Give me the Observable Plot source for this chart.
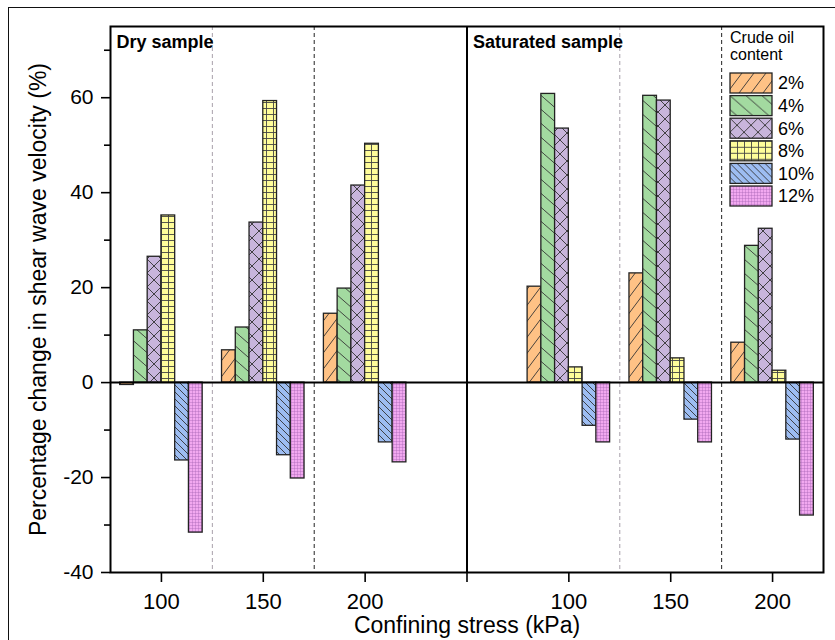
<!DOCTYPE html>
<html><head><meta charset="utf-8">
<script src="https://cdn.jsdelivr.net/npm/d3@7"></script>
<script src="https://cdn.jsdelivr.net/npm/@observablehq/plot@0.6"></script>
<style>
html,body{margin:0;padding:0;background:#fff;overflow:hidden;}
#wrap{position:relative;width:835px;height:640px;overflow:hidden;}
#border{position:absolute;left:8px;top:7px;width:860px;height:680px;border:1.5px solid #111;box-sizing:border-box;pointer-events:none;}
#legend{position:absolute;left:0;top:0;pointer-events:none;}
</style></head><body>
<svg id="defs" width="0" height="0" style="position:absolute;left:0;top:0"></svg>
<div id="wrap"><div id="border"></div></div>
<script>
// ---- data ----
const samples = ["Dry sample", "Saturated sample"];
const stresses = ["100", "150", "200"];
const contents = ["2%", "4%", "6%", "8%", "10%", "12%"];
const legendTitle = ["Crude oil", "content"];
const colors = ["#FFC285", "#A3DAA0", "#C8B5DC", "#FFFD9A", "#9DBDF2", "#F2A8F0"];
// values per crude oil content: dry 100,150,200 then saturated 100,150,200
const oil2  = [-0.5, 6.8, 14.5, 20.2, 23.0, 8.4];
const oil4  = [11.0, 11.6, 19.8, 60.8, 60.4, 28.8];
const oil6  = [26.5, 33.7, 41.5, 53.5, 59.4, 32.4];
const oil8  = [35.2, 59.3, 50.3, 3.2, 5.1, 2.5];
const oil10 = [-16.4, -15.3, -12.6, -9.1, -7.8, -12.0];
const oil12 = [-31.6, -20.2, -16.8, -12.6, -12.6, -28.0];
const yMajor = [-40, -20, 0, 20, 40, 60];
const yMinor = [-30, -10, 10, 30, 50, 70];
const yTitle = "Percentage change in shear wave velocity (%)";
const xTitle = "Confining stress (kPa)";

// ---- patterns ----
const defs = d3.select("#defs").append("defs");
function pat(id, w, h, color, path, stroke, sw, op) {
  const p = defs.append("pattern").attr("id", id).attr("patternUnits", "userSpaceOnUse")
    .attr("width", w).attr("height", h);
  p.append("rect").attr("width", w).attr("height", h).attr("fill", color);
  p.append("path").attr("d", path).attr("stroke", stroke).attr("stroke-width", sw)
    .attr("stroke-opacity", op).attr("fill", "none");
}
pat("pat0", 12, 16, colors[0], "M-12,16L0,0M0,16L12,0M12,16L24,0", "#333", 0.9, 1);
pat("pat1", 16, 14, colors[1], "M0,0L16,14M-16,0L0,14M16,0L32,14", "#333", 0.9, 1);
pat("pat2", 14, 14, colors[2], "M0,0L14,14M14,0L0,14", "#333", 0.9, 1);
pat("pat3", 7, 6, colors[3], "M0.5,0V6M0,0.5H7", "#444", 0.9, 1);
pat("pat4", 7, 7, colors[4], "M0,0L7,7M-7,0L0,7M7,0L14,7", "#333", 0.9, 1);
pat("pat5", 3, 3, colors[5], "M0,0.5H3M0.5,0V3", "#a060b0", 0.6, 0.6);

// ---- table ----
const series = [oil2, oil4, oil6, oil8, oil10, oil12];
const rows = [];
series.forEach((vals, ci) => vals.forEach((v, j) => rows.push({
  content: contents[ci], ci, sample: samples[Math.floor(j / 3)], si: Math.floor(j / 3),
  stress: stresses[j % 3], ki: j % 3, value: v
})));
const bw = 0.135;
const pos = d => d.si * 4 + d.ki + 1;
const font = "'Liberation Sans', Arial, sans-serif";

const chart = Plot.plot({
  width: 835, height: 640,
  marginLeft: 110, marginRight: 12, marginTop: 26, marginBottom: 68,
  style: {fontFamily: font, background: "white", color: "#000", overflow: "visible"},
  x: {type: "linear", domain: [0.5, 7.5]},
  y: {domain: [-40, 75]},
  marks: [
    Plot.ruleX([1.5, 5.5], {stroke: "#a8a0aa", strokeDasharray: "4,3", strokeWidth: 1}),
    Plot.ruleX([2.5, 6.5], {stroke: "#222", strokeDasharray: "4,3", strokeWidth: 1}),
    ...contents.map((c, ci) => Plot.rect(rows.filter(d => d.ci === ci), {
      x1: d => pos(d) + (d.ci - 3) * bw,
      x2: d => pos(d) + (d.ci - 2) * bw,
      y1: 0, y2: "value",
      fill: `url(#pat${ci})`, stroke: "#222", strokeWidth: 1.3
    })),
    Plot.ruleY([0], {stroke: "#000", strokeWidth: 2}),
    Plot.ruleX([4], {stroke: "#000", strokeWidth: 2}),
    Plot.frame({stroke: "#000", strokeWidth: 2}),
    Plot.axisY({ticks: yMajor, tickFormat: d => String(d), tickSize: 9, tickPadding: 8, fontSize: 21, strokeWidth: 1.6, label: null}),
    Plot.axisY({ticks: yMinor, tickSize: 6, tickFormat: () => "", strokeWidth: 1.6, label: null}),
    Plot.axisX({ticks: [1, 2, 3, 5, 6, 7], tickFormat: t => stresses[(t - 1) % 4], tickSize: 10, tickPadding: 11, fontSize: 22, strokeWidth: 1.6, label: null}),
    Plot.axisX({ticks: [4], tickFormat: () => "", tickSize: 10, strokeWidth: 1.6, label: null}),
    Plot.text([samples[0]], {text: d => d, frameAnchor: "top-left", dx: 6, dy: 9, lineAnchor: "top", textAnchor: "start", fontSize: 18, fontWeight: "bold"}),
    Plot.text([samples[1]], {text: d => d, x: 4, frameAnchor: "top", dx: 6, dy: 9, lineAnchor: "top", textAnchor: "start", fontSize: 18, fontWeight: "bold"}),
    Plot.text([yTitle], {text: d => d, frameAnchor: "left", dx: -72, rotate: -90, textAnchor: "middle", lineAnchor: "middle", fontSize: 23}),
    Plot.text([xTitle], {text: d => d, frameAnchor: "bottom", dy: 44, lineAnchor: "top", textAnchor: "middle", fontSize: 23})
  ]
});
document.getElementById("wrap").prepend(chart);

// ---- legend ----
const lg = d3.select("#wrap").append("svg").attr("id", "legend").attr("width", 835).attr("height", 640)
  .style("font-family", font);
lg.selectAll("text.t").data(legendTitle).join("text").attr("class", "t")
  .attr("x", 730).attr("y", (d, i) => 43 + i * 17).attr("font-size", 16).text(d => d);
const ent = lg.selectAll("g.e").data(contents).join("g").attr("class", "e")
  .attr("transform", (d, i) => `translate(730,${73 + i * 22.6})`);
ent.append("rect").attr("width", 42).attr("height", 20).attr("fill", (d, i) => `url(#pat${i})`)
  .attr("stroke", "#222").attr("stroke-width", 1.3);
ent.append("text").attr("x", 48).attr("y", 10).attr("dy", "0.36em").attr("font-size", 18).text(d => d);
</script>
</body></html>
